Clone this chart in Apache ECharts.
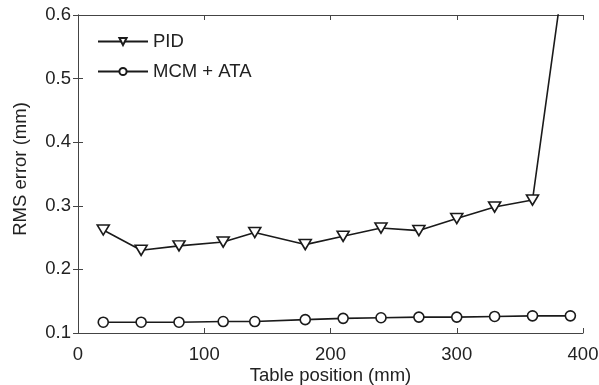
<!DOCTYPE html>
<html>
<head>
<meta charset="utf-8">
<script src="https://cdn.jsdelivr.net/npm/echarts@6/dist/echarts.min.js"></script>
<style>
  html, body { margin: 0; padding: 0; background: #fff; }
  #chart { width: 599px; height: 385px; }
</style>
</head>
<body>
<div id="chart"></div>
<script>
// Table positions (mm) where RMS error was measured
const positions = [20, 50, 80, 115, 140, 180, 210, 240, 270, 300, 330, 360, 390];
// RMS error (mm) for each controller
const pidError = [0.262, 0.230, 0.237, 0.243, 0.258, 0.239, 0.252, 0.265, 0.261, 0.280, 0.298, 0.309, 0.74];
const mcmAtaError = [0.117, 0.117, 0.117, 0.118, 0.118, 0.121, 0.123, 0.124, 0.125, 0.125, 0.126, 0.127, 0.127];
const seriesNames = ['PID', 'MCM + ATA'];
const xTicks = { min: 0, max: 400, interval: 100 };
const yTicks = { min: 0.1, max: 0.6, interval: 0.1 };

const FONT = '"Liberation Sans", Arial, Helvetica, sans-serif';
const FONT_SIZE = 18.5;
const AXIS_COLOR = '#444';
const TEXT_COLOR = '#222';
const LINE_COLOR = '#1a1a1a';

const pairs = (xs, ys) => xs.map((x, i) => [x, ys[i]]);

const chart = echarts.init(document.getElementById('chart'), null, { renderer: 'canvas' });

const axisLine = { show: true, lineStyle: { color: AXIS_COLOR, width: 1 } };
const tickIn = { show: true, inside: true, length: 5, lineStyle: { color: AXIS_COLOR, width: 1 } };

chart.setOption({
  animation: false,
  backgroundColor: '#fff',
  grid: { left: 78, right: 16, top: 15, bottom: 52, containLabel: false, outerBoundsMode: 'none' },
  legend: {
    left: 97,
    top: 32,
    padding: 0,
    orient: 'vertical',
    itemGap: 11,
    itemWidth: 50,
    itemHeight: 9,
    data: seriesNames,
    textStyle: { fontFamily: FONT, fontSize: FONT_SIZE, color: TEXT_COLOR }
  },
  xAxis: [
    {
      type: 'value',
      min: xTicks.min, max: xTicks.max, interval: xTicks.interval,
      position: 'bottom',
      name: 'Table position (mm)',
      nameLocation: 'middle',
      nameGap: 33,
      nameMoveOverlap: false,
      nameTextStyle: { fontFamily: FONT, fontSize: FONT_SIZE, color: TEXT_COLOR },
      axisLine, axisTick: tickIn,
      axisLabel: { fontFamily: FONT, fontSize: FONT_SIZE, color: TEXT_COLOR, margin: 12 },
      splitLine: { show: false }
    },
    {
      type: 'value',
      min: xTicks.min, max: xTicks.max, interval: xTicks.interval,
      position: 'top',
      axisLine, axisTick: tickIn,
      axisLabel: { show: false },
      splitLine: { show: false }
    }
  ],
  yAxis: [
    {
      type: 'value',
      min: yTicks.min, max: yTicks.max, interval: yTicks.interval,
      position: 'left',
      name: 'RMS error (mm)',
      nameLocation: 'middle',
      nameGap: 48,
      nameMoveOverlap: false,
      nameTextStyle: { fontFamily: FONT, fontSize: FONT_SIZE, color: TEXT_COLOR, padding: [0, 0, 0, 10] },
      axisLine, axisTick: tickIn,
      axisLabel: {
        fontFamily: FONT, fontSize: FONT_SIZE, color: TEXT_COLOR, margin: 7,
        formatter: v => v.toFixed(1)
      },
      splitLine: { show: false }
    },
    {
      type: 'value',
      min: yTicks.min, max: yTicks.max, interval: yTicks.interval,
      position: 'right',
      axisLine, axisTick: tickIn,
      axisLabel: { show: false },
      splitLine: { show: false }
    }
  ],
  series: [
    {
      name: seriesNames[0],
      type: 'line',
      data: pairs(positions, pidError),
      clip: true,
      symbol: 'triangle',
      symbolRotate: 180,
      symbolSize: [12, 10],
      showAllSymbol: true,
      lineStyle: { color: LINE_COLOR, width: 1.6 },
      itemStyle: { color: '#fff', borderColor: LINE_COLOR, borderWidth: 1.6 }
    },
    {
      name: seriesNames[1],
      type: 'line',
      data: pairs(positions, mcmAtaError),
      clip: true,
      symbol: 'circle',
      symbolSize: 10,
      showAllSymbol: true,
      lineStyle: { color: LINE_COLOR, width: 1.6 },
      itemStyle: { color: '#fff', borderColor: LINE_COLOR, borderWidth: 1.6 }
    }
  ]
});
</script>
</body>
</html>
